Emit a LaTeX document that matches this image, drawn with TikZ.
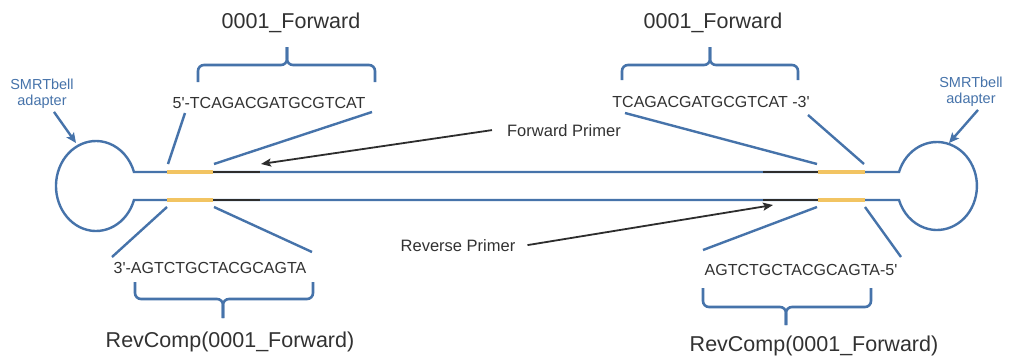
\documentclass[tikz,border=0pt]{standalone}
\usepackage{fontspec}
\setmainfont{Liberation Sans}
\usetikzlibrary{arrows.meta}
\definecolor{lblue}{RGB}{70,115,170}
\definecolor{prim}{RGB}{242,196,98}
\definecolor{dk}{RGB}{45,45,45}
\definecolor{txt}{RGB}{50,50,50}
\newcommand{\ap}{\textquotesingle}
\begin{document}
\begin{tikzpicture}[x=1pt,y=-1pt,
  strand/.style={lblue, line width=2.4pt},
  primseg/.style={prim, line width=3.6pt},
  darkseg/.style={dk, line width=2.4pt},
  guide/.style={lblue, line width=2.4pt},
  bracketline/.style={lblue, line width=2.6pt, rounded corners=6pt},
  ptr/.style={dk, line width=1.8pt, -{Stealth[length=10pt,width=8pt,inset=2pt]}},
  bptr/.style={lblue, line width=2.4pt, -{Stealth[length=10pt,width=9pt,inset=2pt]}},
  lbl/.style={txt, inner sep=0pt, anchor=base},
  seqfont/.style={font=\fontsize{16}{18}\selectfont},
  bigfont/.style={font=\fontsize{21.5}{24}\selectfont},
  primfont/.style={font=\fontsize{16.5}{18}\selectfont},
  smrt/.style={lblue, inner sep=0pt, anchor=north, align=center, font=\fontsize{14.5}{16}\selectfont}
]
\useasboundingbox (0,0) rectangle (1015,357);
\fill[white] (0,0) rectangle (1015,357);

% strand coordinates
\coordinate (tL0) at (134,172); \coordinate (tL1) at (167,172);
\coordinate (tL2) at (213,172); \coordinate (tL3) at (260,172);
\coordinate (tR3) at (763,172); \coordinate (tR2) at (818,172);
\coordinate (tR1) at (865,172); \coordinate (tR0) at (899,172);
\coordinate (bL0) at (134,200); \coordinate (bL1) at (167,200);
\coordinate (bL2) at (213,200); \coordinate (bL3) at (260,200);
\coordinate (bR3) at (763,200); \coordinate (bR2) at (818,200);
\coordinate (bR1) at (865,200); \coordinate (bR0) at (899,200);

% SMRTbell loop molecule
\draw[strand] (tL0) -- (tR0)
  arc[start angle=161.45, end angle=-161.45, x radius=40pt, y radius=44pt]
  -- (bL0)
  arc[start angle=-18.13, end angle=-341.87, x radius=40pt, y radius=45pt]
  -- cycle;

% primer and barcode segments
\draw[primseg] (tL1) -- (tL2);
\draw[primseg] (bL1) -- (bL2);
\draw[primseg] (tR2) -- (tR1);
\draw[primseg] (bR2) -- (bR1);
\draw[darkseg] (tL2) -- (tL3);
\draw[darkseg] (bL2) -- (bL3);
\draw[darkseg] (tR3) -- (tR2);
\draw[darkseg] (bR3) -- (bR2);

% texts
\node[lbl, bigfont] (fwdL) at (291,28) {0001\_Forward};
\node[lbl, bigfont] (fwdR) at (713,28) {0001\_Forward};
\node[lbl, seqfont] (seqTL) at (269,108) {5\ap-TCAGACGATGCGTCAT};
\node[lbl, seqfont] (seqTR) at (711,107) {TCAGACGATGCGTCAT -3\ap};
\node[lbl, seqfont] (seqBL) at (210,273) {3\ap-AGTCTGCTACGCAGTA};
\node[lbl, seqfont] (seqBR) at (801,275) {AGTCTGCTACGCAGTA-5\ap};
\node[lbl, bigfont] (rcL) at (230,347) {RevComp(0001\_Forward)};
\node[lbl, bigfont] (rcR) at (814,351.5) {RevComp(0001\_Forward)};
\node[lbl, primfont] (fp) at (564,136) {Forward Primer};
\node[lbl, primfont] (rp) at (458,251) {Reverse Primer};
\node[smrt] (smL) at (42,79) {SMRTbell\\adapter};
\node[smrt] (smR) at (971,77) {SMRTbell\\adapter};

% guide lines from sequences to strands
\coordinate (gTLa) at (185,113); \coordinate (gTLb) at (168,164);
\coordinate (gTLc) at (372,112); \coordinate (gTLd) at (214,164);
\coordinate (gTRa) at (625,113); \coordinate (gTRb) at (817,164);
\coordinate (gTRc) at (808,115); \coordinate (gTRd) at (864,164);
\coordinate (gBLa) at (167,207); \coordinate (gBLb) at (112,257);
\coordinate (gBLc) at (214,207); \coordinate (gBLd) at (312,252);
\coordinate (gBRa) at (817,207); \coordinate (gBRb) at (703,250);
\coordinate (gBRc) at (865,207); \coordinate (gBRd) at (901,257);
\draw[guide] (gTLa) -- (gTLb);
\draw[guide] (gTLc) -- (gTLd);
\draw[guide] (gTRa) -- (gTRb);
\draw[guide] (gTRc) -- (gTRd);
\draw[guide] (gBLa) -- (gBLb);
\draw[guide] (gBLc) -- (gBLd);
\draw[guide] (gBRa) -- (gBRb);
\draw[guide] (gBRc) -- (gBRd);

% brackets
\draw[bracketline] (198,82) -- (198,65) -- (287,65) -- (287,47);
\draw[bracketline] (375,82) -- (375,65) -- (287,65) -- (287,47);
\draw[bracketline] (622,80) -- (622,65) -- (710,65) -- (710,47);
\draw[bracketline] (798,80) -- (798,65) -- (710,65) -- (710,47);
\draw[bracketline] (135,282) -- (135,299) -- (223,299) -- (223,318);
\draw[bracketline] (313,282) -- (313,299) -- (223,299) -- (223,318);
\draw[bracketline] (703,288) -- (703,307) -- (786,307) -- (786,325);
\draw[bracketline] (871,288) -- (871,307) -- (786,307) -- (786,325);

% primer pointers
\coordinate (fptip) at (261,164);
\coordinate (rptip) at (773,205);
\draw[ptr] ([xshift=-15pt]fp.west) -- (fptip);
\draw[ptr] ([xshift=12pt]rp.east) -- (rptip);

% adapter pointers
\coordinate (smLtip) at (76,143);
\coordinate (smRtip) at (949,143);
\draw[bptr] ([xshift=12pt,yshift=-3pt]smL.south) -- (smLtip);
\draw[bptr] ([xshift=7pt,yshift=-3pt]smR.south) -- (smRtip);
\end{tikzpicture}
\end{document}
